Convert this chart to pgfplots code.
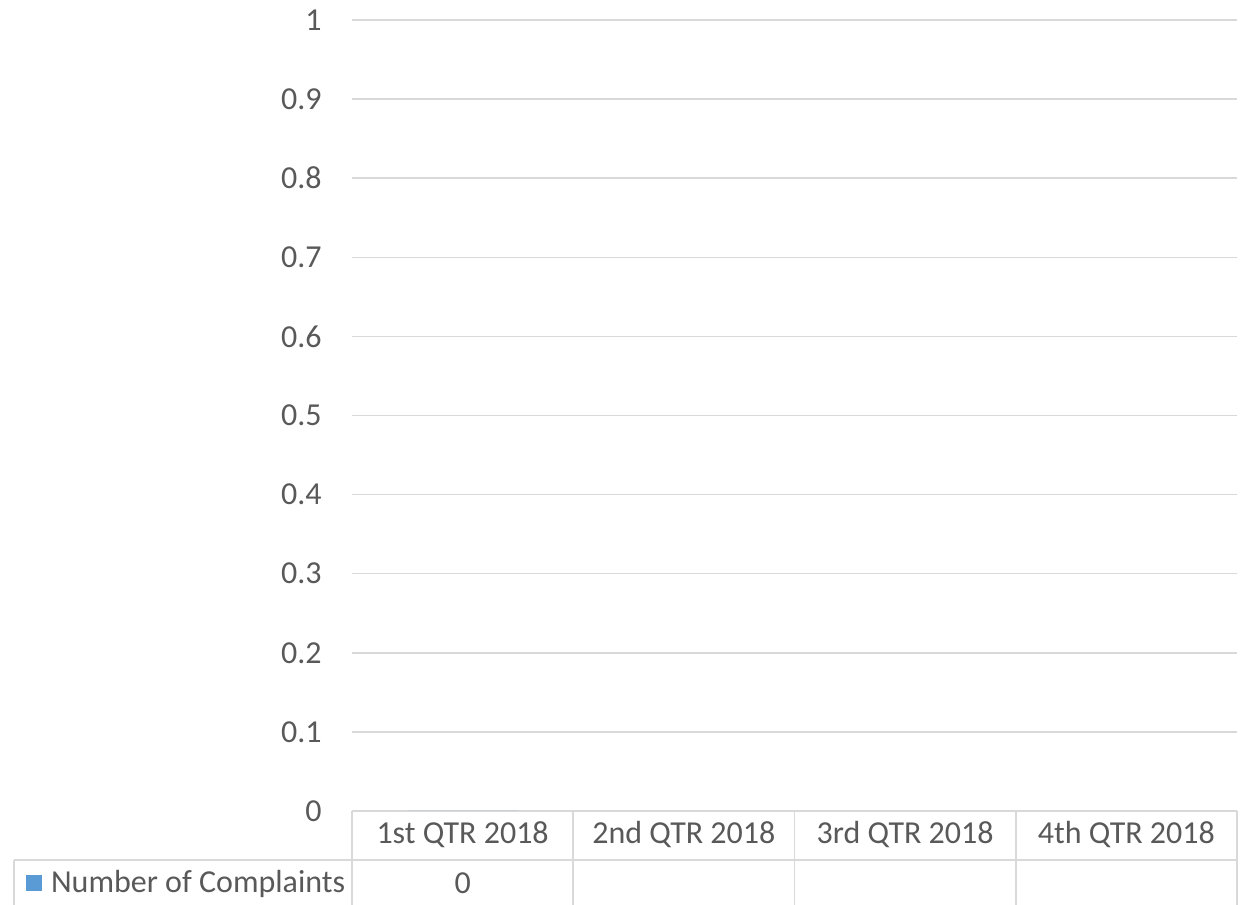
\documentclass[border=0pt]{standalone}
\usepackage{fontspec}
\setmainfont{Carlito}
\usepackage{pgfplots}
\pgfplotsset{compat=1.18}
\definecolor{txt}{HTML}{595959}
\definecolor{grd}{HTML}{D9D9D9}
\definecolor{bar}{HTML}{5B9BD5}
\begin{document}
\begin{tikzpicture}[font=\fontsize{16}{19}\selectfont]
\useasboundingbox (0,0) rectangle (621.5pt,452.5pt);
\begin{axis}[
  at={(176pt,47pt)}, anchor=south west,
  scale only axis, width=442.5pt, height=395.5pt,
  xmin=-0.5, xmax=3.5, ymin=0, ymax=1,
  clip=false,
  axis line style={draw=none},
  major tick length=0pt,
  ymajorgrids, grid style={grd, line width=0.75pt},
  ytick={0,0.1,0.2,0.3,0.4,0.5,0.6,0.7,0.8,0.9,1},
  yticklabels={0,0.1,0.2,0.3,0.4,0.5,0.6,0.7,0.8,0.9,1},
  yticklabel style={inner sep=0pt, anchor=east, xshift=-15pt, text=txt},
  xtick={0,1,2,3},
  xticklabels={1st QTR 2018,2nd QTR 2018,3rd QTR 2018,4th QTR 2018},
  xticklabel style={inner sep=0pt, anchor=center, yshift=-12pt, text=txt},
  /pgf/number format/assume math mode=true,
  legend style={at={(rel axis cs:-0.3683,-0.091)}, anchor=west, draw=none, fill=none,
    inner sep=0pt, outer sep=0pt, font=\fontsize{16}{19}\selectfont\color{txt},
    legend cell align=left,
    /tikz/every even column/.append style={column sep=0pt},
    /tikz/every odd column/.append style={column sep=2.5pt}},
  legend image code/.code={\fill[bar] (0pt,-4pt) rectangle (8pt,4pt);},
]
\addplot[ybar, fill=bar, draw=none, bar width=0.5,
  nodes near coords,
  every node near coord/.append style={anchor=center, yshift=-36pt, text=txt, inner sep=0pt}]
  coordinates {(0,0)};
\addlegendentry{Number of Complaints}
% data table grid
\draw[grd, line width=0.75pt] (axis cs:-0.5,0) ++(-169pt,-24.5pt) -- ([yshift=-24.5pt]axis cs:3.5,0);
\pgfplotsinvokeforeach{-0.5,0.5,1.5,2.5,3.5}{
  \draw[grd, line width=0.75pt] (axis cs:#1,0) -- ([yshift=-60pt]axis cs:#1,0);
}
\draw[grd, line width=0.75pt] ([xshift=-169pt,yshift=-24.5pt]axis cs:-0.5,0) -- ([xshift=-169pt,yshift=-60pt]axis cs:-0.5,0);
\end{axis}
\end{tikzpicture}
\end{document}
